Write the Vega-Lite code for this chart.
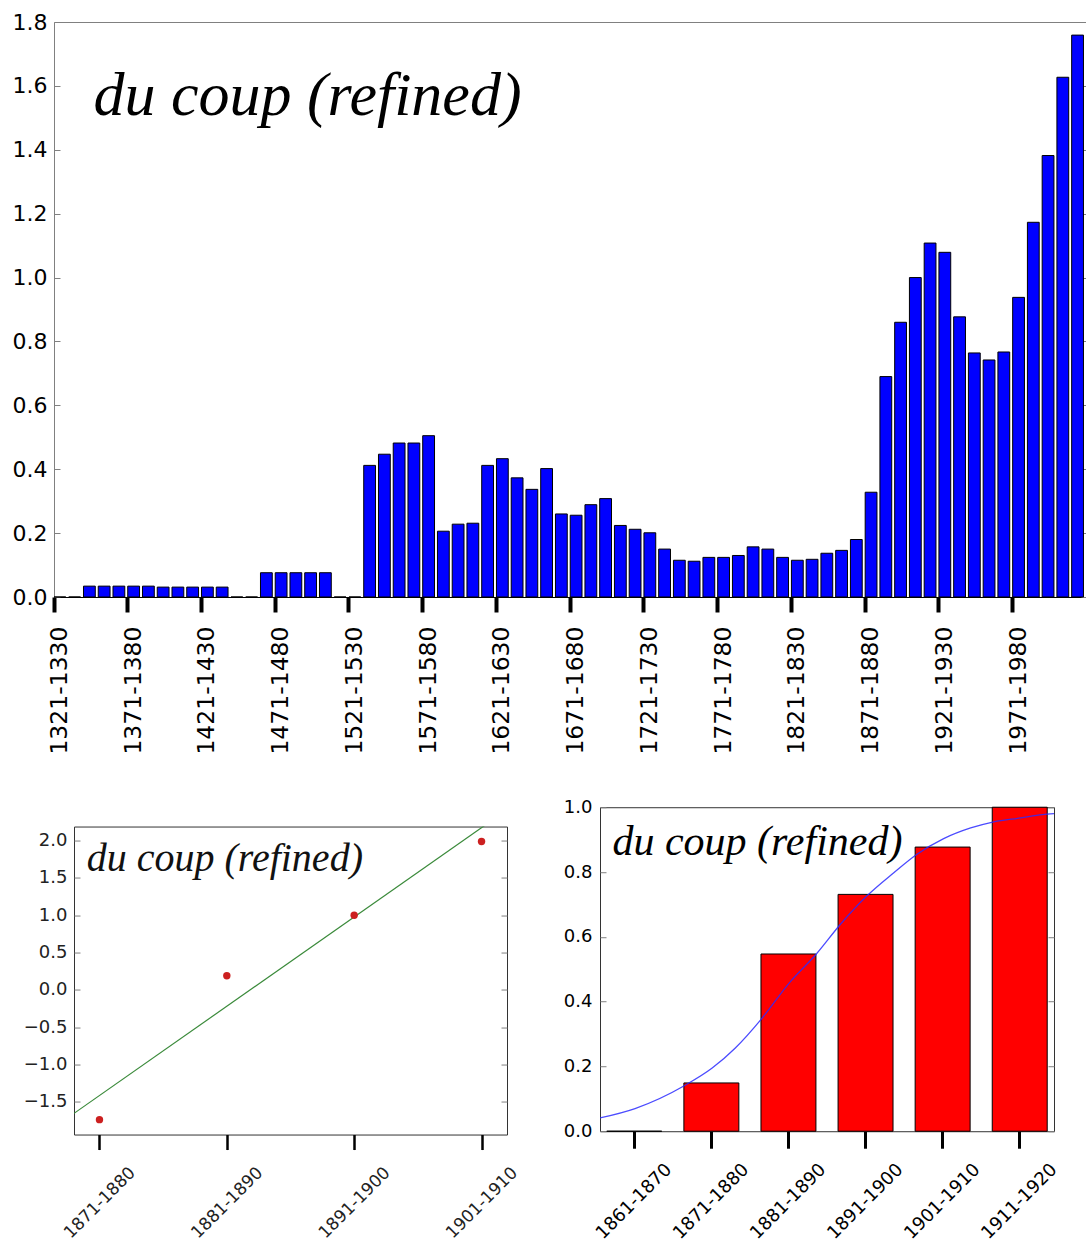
{
  "$schema": "https://vega.github.io/schema/vega-lite/v6.json",
  "padding": {"left": 11, "top": 10, "right": 0, "bottom": 0},
  "background": "white",
  "spacing": 42,
  "center": true,
  "config": {
    "view": {"stroke": "#808080", "strokeWidth": 1},
    "axis": {"grid": false, "labelFont": "DejaVu Sans", "labelColor": "#000", "domain": false, "labelOverlap": false, "labelFlush": false}
  },
  "datasets": {
    "decades": [
      {"decade": "1321-1330", "value": 0},
      {"decade": "1331-1340", "value": 0},
      {"decade": "1341-1350", "value": 0.034},
      {"decade": "1351-1360", "value": 0.034},
      {"decade": "1361-1370", "value": 0.034},
      {"decade": "1371-1380", "value": 0.034},
      {"decade": "1381-1390", "value": 0.034},
      {"decade": "1391-1400", "value": 0.031},
      {"decade": "1401-1410", "value": 0.031},
      {"decade": "1411-1420", "value": 0.031},
      {"decade": "1421-1430", "value": 0.031},
      {"decade": "1431-1440", "value": 0.031},
      {"decade": "1441-1450", "value": 0},
      {"decade": "1451-1460", "value": 0},
      {"decade": "1461-1470", "value": 0.076},
      {"decade": "1471-1480", "value": 0.076},
      {"decade": "1481-1490", "value": 0.076},
      {"decade": "1491-1500", "value": 0.076},
      {"decade": "1501-1510", "value": 0.076},
      {"decade": "1511-1520", "value": 0},
      {"decade": "1521-1530", "value": 0},
      {"decade": "1531-1540", "value": 0.412},
      {"decade": "1541-1550", "value": 0.447},
      {"decade": "1551-1560", "value": 0.482},
      {"decade": "1561-1570", "value": 0.482},
      {"decade": "1571-1580", "value": 0.505},
      {"decade": "1581-1590", "value": 0.206},
      {"decade": "1591-1600", "value": 0.228},
      {"decade": "1601-1610", "value": 0.231},
      {"decade": "1611-1620", "value": 0.412},
      {"decade": "1621-1630", "value": 0.433},
      {"decade": "1631-1640", "value": 0.373},
      {"decade": "1641-1650", "value": 0.337},
      {"decade": "1651-1660", "value": 0.402},
      {"decade": "1661-1670", "value": 0.260},
      {"decade": "1671-1680", "value": 0.256},
      {"decade": "1681-1690", "value": 0.289},
      {"decade": "1691-1700", "value": 0.308},
      {"decade": "1701-1710", "value": 0.224},
      {"decade": "1711-1720", "value": 0.212},
      {"decade": "1721-1730", "value": 0.201},
      {"decade": "1731-1740", "value": 0.150},
      {"decade": "1741-1750", "value": 0.115},
      {"decade": "1751-1760", "value": 0.112},
      {"decade": "1761-1770", "value": 0.124},
      {"decade": "1771-1780", "value": 0.124},
      {"decade": "1781-1790", "value": 0.130},
      {"decade": "1791-1800", "value": 0.157},
      {"decade": "1801-1810", "value": 0.150},
      {"decade": "1811-1820", "value": 0.124},
      {"decade": "1821-1830", "value": 0.115},
      {"decade": "1831-1840", "value": 0.118},
      {"decade": "1841-1850", "value": 0.137},
      {"decade": "1851-1860", "value": 0.146},
      {"decade": "1861-1870", "value": 0.180},
      {"decade": "1871-1880", "value": 0.328},
      {"decade": "1881-1890", "value": 0.690},
      {"decade": "1891-1900", "value": 0.860},
      {"decade": "1901-1910", "value": 1.000},
      {"decade": "1911-1920", "value": 1.108},
      {"decade": "1921-1930", "value": 1.079},
      {"decade": "1931-1940", "value": 0.877},
      {"decade": "1941-1950", "value": 0.764},
      {"decade": "1951-1960", "value": 0.742},
      {"decade": "1961-1970", "value": 0.767},
      {"decade": "1971-1980", "value": 0.938},
      {"decade": "1981-1990", "value": 1.173},
      {"decade": "1991-2000", "value": 1.382},
      {"decade": "2001-2010", "value": 1.627},
      {"decade": "2011-2020", "value": 1.759}
    ],
    "points": [
      {"year": 1871, "value": -1.74},
      {"year": 1881, "value": 0.19},
      {"year": 1891, "value": 1.0},
      {"year": 1901, "value": 1.99}
    ],
    "fit": [
      {"year": 1869, "fit": -1.656},
      {"year": 1903, "fit": 2.414}
    ],
    "share": [
      {"decade": "1861-1870", "value": 0},
      {"decade": "1871-1880", "value": 0.149},
      {"decade": "1881-1890", "value": 0.547},
      {"decade": "1891-1900", "value": 0.731},
      {"decade": "1901-1910", "value": 0.877},
      {"decade": "1911-1920", "value": 1.0}
    ],
    "curve": [
      {"year": 1856.46, "value": 0.041},
      {"year": 1861, "value": 0.070},
      {"year": 1867.5, "value": 0.142},
      {"year": 1871, "value": 0.195},
      {"year": 1874, "value": 0.257},
      {"year": 1877.5, "value": 0.350},
      {"year": 1881, "value": 0.458},
      {"year": 1884.5, "value": 0.547},
      {"year": 1887.6, "value": 0.638},
      {"year": 1891, "value": 0.725},
      {"year": 1894.5, "value": 0.797},
      {"year": 1897.5, "value": 0.854},
      {"year": 1901, "value": 0.903},
      {"year": 1904.5, "value": 0.936},
      {"year": 1907.5, "value": 0.955},
      {"year": 1911, "value": 0.967},
      {"year": 1913.8, "value": 0.977},
      {"year": 1915.3, "value": 0.980}
    ]
  },
  "vconcat": [
    {
      "width": 1033,
      "height": 575,
      "layer": [
        {
          "data": {"name": "decades"},
          "mark": {"type": "bar", "fill": "#0000ff", "stroke": "#000000", "strokeWidth": 1},
          "encoding": {
            "x": {
              "field": "decade", "type": "nominal", "sort": null,
              "scale": {"paddingInner": 0.2, "paddingOuter": 0.12, "align": 0},
              "axis": {
                "title": null,
                "values": ["1321-1330", "1371-1380", "1421-1430", "1471-1480", "1521-1530", "1571-1580", "1621-1630", "1671-1680", "1721-1730", "1771-1780", "1821-1830", "1871-1880", "1921-1930", "1971-1980"],
                "bandPosition": 0, "labelAngle": -90, "labelAlign": "right", "labelBaseline": "middle",
                "labelFontSize": 23.5, "labelPadding": 14,
                "tickSize": 15, "tickWidth": 4, "tickColor": "#000000",
                "domain": true, "domainColor": "#000000", "domainWidth": 1
              }
            },
            "y": {
              "field": "value", "type": "quantitative",
              "scale": {"domain": [0, 1.8], "nice": false, "zero": true},
              "axis": {
                "title": null,
                "values": [0, 0.2, 0.4, 0.6, 0.8, 1.0, 1.2, 1.4, 1.6, 1.8],
                "format": ".1f", "labelFontSize": 22,
                "tickSize": -6, "tickColor": "#808080", "labelPadding": 13
              }
            }
          }
        },
        {
          "data": {"values": [{}]},
          "mark": {"type": "text", "text": "du coup (refined)", "font": "Liberation Serif", "fontStyle": "italic", "fontSize": 62, "align": "left", "baseline": "alphabetic", "dx": 4, "color": "#000000"},
          "encoding": {
            "x": {"datum": "1341-1350", "type": "nominal"},
            "y": {
              "datum": 1.508, "type": "quantitative",
              "axis": {"orient": "right", "title": null, "labels": false, "values": [0, 0.2, 0.4, 0.6, 0.8, 1.0, 1.2, 1.4, 1.6, 1.8], "tickSize": -6, "tickColor": "#808080"}
            }
          }
        }
      ],
      "resolve": {"axis": {"y": "independent"}}
    },
    {
      "center": true,
      "spacing": 41,
      "hconcat": [
        {
          "width": 433,
          "height": 308,
          "view": {"stroke": "#333333"},
          "layer": [
            {
              "data": {"name": "fit"},
              "mark": {"type": "line", "color": "#3a8a3a", "strokeWidth": 1.2, "clip": true},
              "encoding": {
                "x": {
                  "field": "year", "type": "quantitative",
                  "scale": {"domain": [1869, 1903], "nice": false, "zero": false},
                  "axis": {
                    "title": null, "values": [1871, 1881, 1891, 1901],
                    "labelExpr": "datum.value + '-' + (datum.value + 9)",
                    "labelAngle": -45, "labelAlign": "center", "labelBaseline": "middle",
                    "labelFontSize": 17, "labelPadding": 53, "labelColor": "#222222",
                    "tickSize": 15, "tickWidth": 2.5, "tickColor": "#000000"
                  }
                },
                "y": {
                  "field": "fit", "type": "quantitative",
                  "scale": {"domain": [-1.94, 2.19], "nice": false, "zero": false},
                  "axis": {
                    "title": null,
                    "values": [-1.5, -1.0, -0.5, 0, 0.5, 1.0, 1.5, 2.0],
                    "format": ".1f", "labelFontSize": 18, "labelColor": "#222222",
                    "tickSize": -6, "tickColor": "#808080", "labelPadding": 13
                  }
                }
              }
            },
            {
              "data": {"name": "points"},
              "mark": {"type": "circle", "color": "#cc2020", "size": 55, "opacity": 1},
              "encoding": {
                "x": {"field": "year", "type": "quantitative"},
                "y": {
                  "field": "value", "type": "quantitative",
                  "axis": {"orient": "right", "title": null, "labels": false, "values": [-1.5, -1.0, -0.5, 0, 0.5, 1.0, 1.5, 2.0], "tickSize": -6, "tickColor": "#808080"}
                }
              }
            },
            {
              "data": {"values": [{}]},
              "mark": {"type": "text", "text": "du coup (refined)", "font": "Liberation Serif", "fontStyle": "italic", "fontSize": 40, "align": "left", "baseline": "alphabetic", "color": "#111111"},
              "encoding": {
                "x": {"datum": 1870.0, "type": "quantitative"},
                "y": {"datum": 1.6, "type": "quantitative", "axis": null}
              }
            }
          ],
          "resolve": {"axis": {"y": "independent"}}
        },
        {
          "width": 454,
          "height": 324,
          "view": {"stroke": "#333333"},
          "layer": [
            {
              "data": {"name": "share"},
              "mark": {"type": "bar", "fill": "#ff0000", "stroke": "#000000", "strokeWidth": 1},
              "encoding": {
                "x": {
                  "field": "decade", "type": "nominal", "sort": null,
                  "scale": {"paddingInner": 0.287, "paddingOuter": 0.088},
                  "axis": {
                    "title": " ", "titleFontSize": 14, "titlePadding": 4,
                    "bandPosition": 0.5,
                    "labelAngle": -45, "labelAlign": "center", "labelBaseline": "middle",
                    "labelFontSize": 18, "labelPadding": 53,
                    "tickSize": 17, "tickWidth": 3, "tickColor": "#000000"
                  }
                },
                "y": {
                  "field": "value", "type": "quantitative",
                  "scale": {"domain": [0, 1], "nice": false},
                  "axis": {
                    "title": null, "values": [0, 0.2, 0.4, 0.6, 0.8, 1.0],
                    "format": ".1f", "labelFontSize": 18,
                    "tickSize": -6, "tickColor": "#808080", "labelPadding": 14
                  }
                }
              }
            },
            {
              "data": {"name": "curve"},
              "mark": {"type": "line", "color": "#2b2bff", "strokeWidth": 1.3, "opacity": 0.85, "interpolate": "monotone", "clip": true},
              "encoding": {
                "x": {
                  "field": "year", "type": "quantitative",
                  "scale": {"domain": [1856.46, 1915.3], "nice": false, "zero": false},
                  "axis": null
                },
                "y": {
                  "field": "value", "type": "quantitative",
                  "axis": {"orient": "right", "title": " ", "titleFontSize": 8, "titlePadding": 5, "labels": false, "values": [0, 0.2, 0.4, 0.6, 0.8, 1.0], "tickSize": -6, "tickColor": "#808080"}
                }
              }
            },
            {
              "data": {"values": [{}]},
              "mark": {"type": "text", "text": "du coup (refined)", "font": "Liberation Serif", "fontStyle": "italic", "fontSize": 42, "align": "left", "baseline": "alphabetic", "color": "#000000"},
              "encoding": {
                "x": {
                  "datum": 1858.07, "type": "quantitative",
                  "scale": {"domain": [1856.46, 1915.3], "nice": false, "zero": false},
                  "axis": null
                },
                "y": {"datum": 0.852, "type": "quantitative", "axis": null}
              }
            }
          ],
          "resolve": {"scale": {"x": "independent"}, "axis": {"x": "independent", "y": "independent"}}
        }
      ]
    }
  ]
}
